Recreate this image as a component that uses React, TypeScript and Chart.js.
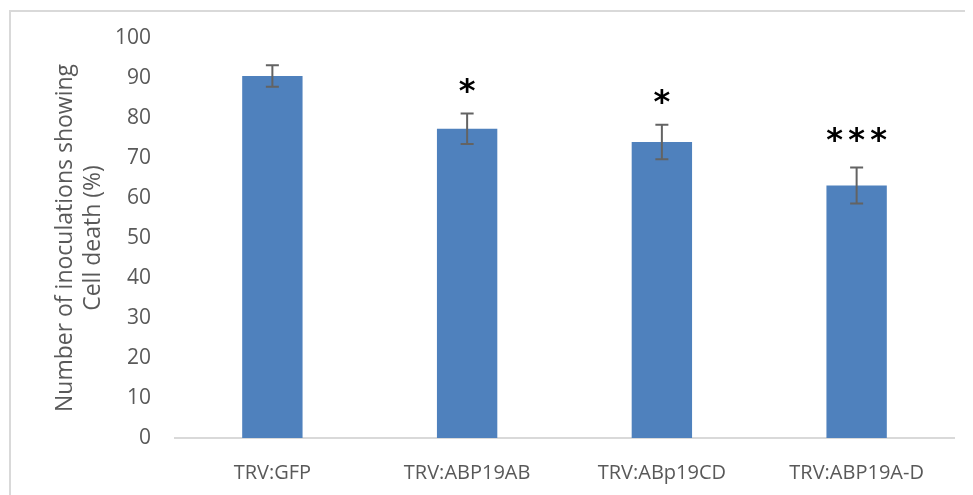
import React, { useEffect, useRef } from "react";
import { Chart, registerables } from "chart.js";

Chart.register(...registerables);

const categories = ["TRV:GFP", "TRV:ABP19AB", "TRV:ABp19CD", "TRV:ABP19A-D"];
const values = [90.5, 77.3, 74.0, 63.1];
const errors = [2.7, 3.8, 4.3, 4.5];
const significance = ["", "*", "*", "***"];
const yTitle = ["Number of inoculations showing", "Cell death (%)"];

const FONT = "'Open Sans', Lato, sans-serif";

const errorBarPlugin = {
  id: "errorBars",
  afterDatasetsDraw(chart: any) {
    const ctx = chart.ctx;
    const meta = chart.getDatasetMeta(0);
    const y = chart.scales.y;
    ctx.save();
    meta.data.forEach((bar: any, i: number) => {
      const x = bar.x;
      const top = y.getPixelForValue(values[i] + errors[i]);
      const bot = y.getPixelForValue(values[i] - errors[i]);
      ctx.strokeStyle = "#636363";
      ctx.lineWidth = 2;
      ctx.beginPath();
      ctx.moveTo(x, top);
      ctx.lineTo(x, bot);
      ctx.moveTo(x - 6.5, top);
      ctx.lineTo(x + 6.5, top);
      ctx.moveTo(x - 6.5, bot);
      ctx.lineTo(x + 6.5, bot);
      ctx.stroke();
      const sig = significance[i];
      if (sig) {
        ctx.fillStyle = "#000000";
        ctx.font = "bold 32px 'DejaVu Sans', sans-serif";
        ctx.textAlign = "center";
        ctx.textBaseline = "alphabetic";
        const n = sig.length;
        const lift = n > 1 ? 18 : 13;
        for (let j = 0; j < n; j++) {
          ctx.fillText(sig[j], x + (j - (n - 1) / 2) * 22, top - lift);
        }
      }
    });
    ctx.restore();
  },
};

export default function App() {
  const ref = useRef<HTMLCanvasElement>(null);
  useEffect(() => {
    const chart = new Chart(ref.current!, {
      type: "bar",
      data: {
        labels: categories,
        datasets: [
          {
            data: values,
            backgroundColor: "#4F81BD",
            barPercentage: 0.31,
            categoryPercentage: 1,
          },
        ],
      },
      options: {
        animation: false,
        responsive: false,
        layout: { padding: { top: 30, right: 19, left: 0, bottom: 0 } },
        plugins: { legend: { display: false }, tooltip: { enabled: false } },
        scales: {
          x: {
            grid: { display: false },
            border: { display: true, color: "#D9D9D9", width: 2 },
            ticks: { color: "#595959", font: { family: FONT, size: 20 }, padding: 15, maxRotation: 0 },
            afterFit: (s: any) => {
              s.height = 57;
            },
          },
          y: {
            min: 0,
            max: 100,
            grid: { display: false },
            border: { display: false },
            ticks: { stepSize: 10, color: "#595959", font: { family: FONT, size: 21 }, padding: 16 },
            title: {
              display: true,
              text: yTitle,
              color: "#595959",
              font: { family: FONT, size: 23, lineHeight: 1.22 },
              padding: { top: 43, bottom: 0 },
            },
            afterFit: (s: any) => {
              s.width = 167;
            },
            afterLayout: undefined,
          },
        },
      },
      plugins: [
        errorBarPlugin,
        {
          id: "fixArea",
          afterLayout(chart: any) {
            const y = chart.scales.y;
            const x = chart.scales.x;
            const top = 30;
            const bottom = 430;
            y.top = top;
            y.bottom = bottom;
            y.height = bottom - top;
            y.configure();
            chart.chartArea.top = top;
            chart.chartArea.bottom = bottom;
            chart.chartArea.height = bottom - top;
            x.top = bottom;
          },
        },
      ],
    });
    return () => chart.destroy();
  }, []);
  return (
    <div style={{ position: "relative", width: 965, height: 487, overflow: "hidden" }}>
      <div
        style={{
          position: "absolute",
          left: 1,
          top: 2,
          width: 2000,
          height: 2000,
          borderLeft: "2px solid #D9D9D9",
          borderTop: "2px solid #D9D9D9",
        }}
      />
      <canvas ref={ref} width={965} height={487} style={{ position: "absolute", left: 0, top: 0 }} />
    </div>
  );
}
